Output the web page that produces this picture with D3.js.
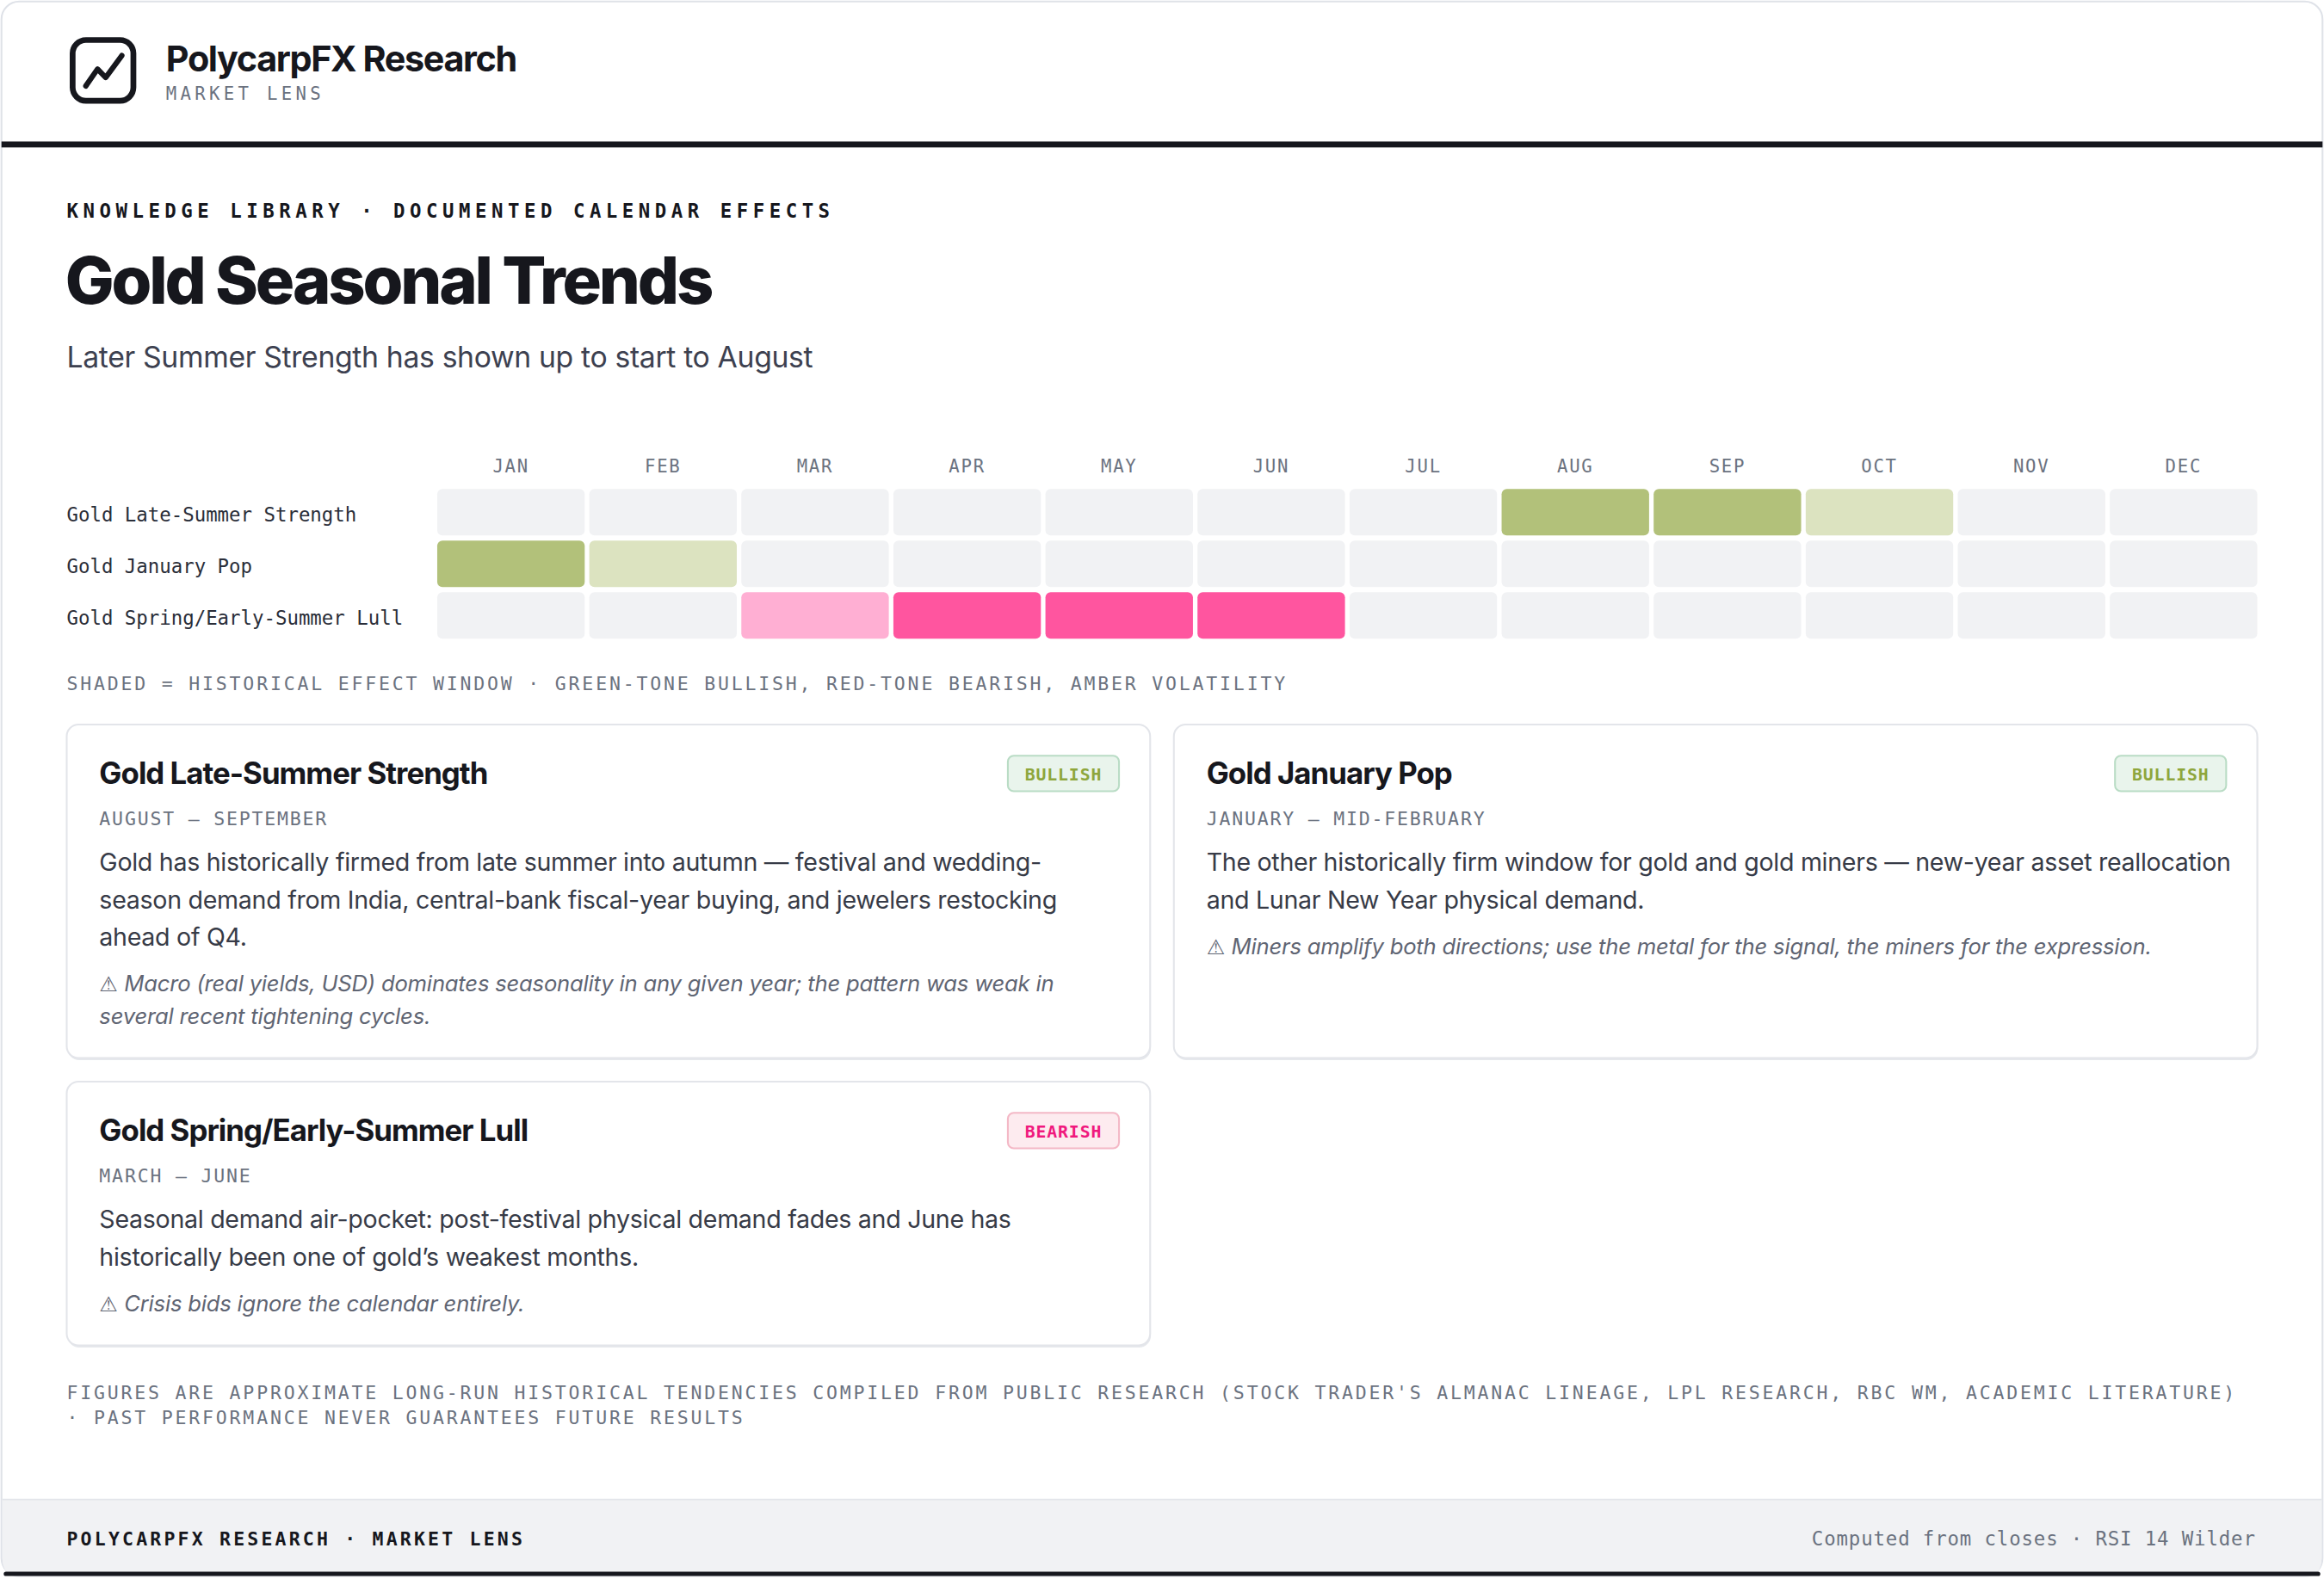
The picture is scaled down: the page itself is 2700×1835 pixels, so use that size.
<!DOCTYPE html>
<html>
<head>
<meta charset="utf-8">
<script src="https://cdn.jsdelivr.net/npm/d3@7"></script>
<style>
  html, body { margin: 0; padding: 0; background: #ffffff; }
  svg { display: block; }
</style>
</head>
<body>
<svg id="chart"></svg>
<script>
// ---- data ----
const months = ['JAN', 'FEB', 'MAR', 'APR', 'MAY', 'JUN', 'JUL', 'AUG', 'SEP', 'OCT', 'NOV', 'DEC'];
const effects = ['Gold Late-Summer Strength', 'Gold January Pop', 'Gold Spring/Early-Summer Lull'];
const tones = ['bullish', 'bullish', 'bearish'];
// 0 = outside window, 1 = edge of window, 2 = core of window
const lateSummer = [0, 0, 0, 0, 0, 0, 0, 2, 2, 1, 0, 0];
const januaryPop = [2, 1, 0, 0, 0, 0, 0, 0, 0, 0, 0, 0];
const springLull = [0, 0, 1, 2, 2, 2, 0, 0, 0, 0, 0, 0];
const intensity = [lateSummer, januaryPop, springLull];

const periods = ['AUGUST \u2013 SEPTEMBER', 'JANUARY \u2013 MID-FEBRUARY', 'MARCH \u2013 JUNE'];
const bodies = [
  ['Gold has historically firmed from late summer into autumn \u2014 festival and wedding-',
   'season demand from India, central-bank fiscal-year buying, and jewelers restocking',
   'ahead of Q4.'],
  ['The other historically firm window for gold and gold miners \u2014 new-year asset reallocation',
   'and Lunar New Year physical demand.'],
  ['Seasonal demand air-pocket: post-festival physical demand fades and June has',
   'historically been one of gold\u2019s weakest months.']
];
const caveats = [
  ['Macro (real yields, USD) dominates seasonality in any given year; the pattern was weak in',
   'several recent tightening cycles.'],
  ['Miners amplify both directions; use the metal for the signal, the miners for the expression.'],
  ['Crisis bids ignore the calendar entirely.']
];

const legendNote = 'SHADED = HISTORICAL EFFECT WINDOW \u00B7 GREEN-TONE BULLISH, RED-TONE BEARISH, AMBER VOLATILITY';
const footnote = [
  'FIGURES ARE APPROXIMATE LONG-RUN HISTORICAL TENDENCIES COMPILED FROM PUBLIC RESEARCH (STOCK TRADER\'S ALMANAC LINEAGE, LPL RESEARCH, RBC WM, ACADEMIC LITERATURE)',
  '\u00B7 PAST PERFORMANCE NEVER GUARANTEES FUTURE RESULTS'
];

// ---- styles ----
const W = 1568, H = 1835 * 1568 / 2700;
const SANS = 'Inter, "Noto Sans", sans-serif';
const MONO = '"DejaVu Sans Mono", "Liberation Mono", monospace';
const INK = '#16171d';
const GREY = '#6b7280';
const palette = {
  bullish: ['#f1f2f4', '#dce3c0', '#b2c17a'],
  bearish: ['#f1f2f4', '#ffafd3', '#ff559f']
};
const badge = {
  bullish: { fill: '#e9f4ec', stroke: '#b9dcc5', text: '#8ea63c', label: 'BULLISH' },
  bearish: { fill: '#fdebef', stroke: '#f4b8c6', text: '#f0197d', label: 'BEARISH' }
};

const svg = d3.select('#chart')
  .attr('width', 2700)
  .attr('height', 1835)
  .attr('viewBox', `0 0 ${W} ${H}`);

// ---- frame ----
svg.append('rect')
  .attr('x', 1).attr('y', 1).attr('width', W - 2).attr('height', H - 3)
  .attr('rx', 12).attr('fill', '#ffffff').attr('stroke', '#dfe2e8').attr('stroke-width', 1.2);

// footer band
const footY = 1012;
svg.append('path')
  .attr('d', `M1.6,${footY} H${W - 1.6} V${H - 14} Q${W - 1.6},${H - 2} ${W - 13},${H - 2} H13 Q1.6,${H - 2} 1.6,${H - 14} Z`)
  .attr('fill', '#f1f2f4');
svg.append('line')
  .attr('x1', 1.6).attr('x2', W - 1.6).attr('y1', footY).attr('y2', footY)
  .attr('stroke', '#e3e5ea').attr('stroke-width', 1);
svg.append('path')
  .attr('d', `M4,${H - 3.5} H${W - 4}`)
  .attr('stroke', INK).attr('stroke-width', 3).attr('stroke-linecap', 'round');

// header rule
svg.append('rect').attr('x', 1).attr('y', 95.5).attr('width', W - 2).attr('height', 4).attr('fill', INK);

// ---- header ----
const logo = svg.append('g');
logo.append('rect').attr('x', 49).attr('y', 27).attr('width', 41).attr('height', 41).attr('rx', 9)
  .attr('fill', 'none').attr('stroke', INK).attr('stroke-width', 3.9);
logo.append('polyline')
  .attr('points', d3.zip([57.9, 65.8, 71.3, 82.2], [58, 46.6, 52.3, 37.5]).map(p => p.join(',')).join(' '))
  .attr('fill', 'none').attr('stroke', INK).attr('stroke-width', 3.6)
  .attr('stroke-linecap', 'round').attr('stroke-linejoin', 'round');

svg.append('text').attr('x', 112).attr('y', 48)
  .attr('font-family', SANS).attr('font-weight', 700).attr('font-size', 24)
  .attr('letter-spacing', -0.8).attr('fill', INK).text('PolycarpFX Research');
svg.append('text').attr('x', 112).attr('y', 67.5)
  .attr('font-family', MONO).attr('font-size', 12).attr('letter-spacing', 2.5)
  .attr('fill', GREY).text('MARKET LENS');

svg.append('text').attr('x', 45).attr('y', 147)
  .attr('font-family', MONO).attr('font-weight', 700).attr('font-size', 13)
  .attr('letter-spacing', 3.2).attr('fill', INK).text('KNOWLEDGE LIBRARY \u00B7 DOCUMENTED CALENDAR EFFECTS');
svg.append('text').attr('x', 44).attr('y', 205)
  .attr('font-family', SANS).attr('font-weight', 800).attr('font-size', 44)
  .attr('letter-spacing', -1.85).attr('fill', INK).text('Gold Seasonal Trends');
svg.append('text').attr('x', 45).attr('y', 248)
  .attr('font-family', SANS).attr('font-weight', 400).attr('font-size', 19.6)
  .attr('letter-spacing', -0.2).attr('fill', '#3d4150').text('Later Summer Strength has shown up to start to August');

// ---- heatmap ----
const x = d3.scaleBand().domain(months).range([295, 1523]).paddingInner(0.03);
const y = d3.scaleBand().domain(effects).range([330, 431]).paddingInner(0.1);

svg.append('g').selectAll('text').data(months).join('text')
  .attr('x', d => x(d) + x.bandwidth() / 2).attr('y', 319)
  .attr('text-anchor', 'middle')
  .attr('font-family', MONO).attr('font-size', 12).attr('letter-spacing', 1)
  .attr('fill', GREY).text(d => d);

svg.append('g').selectAll('text').data(effects).join('text')
  .attr('x', 45).attr('y', d => y(d) + y.bandwidth() / 2 + 6)
  .attr('font-family', MONO).attr('font-size', 13)
  .attr('fill', '#2a2e39').text(d => d);

const cells = effects.flatMap((e, i) => months.map((m, j) => ({ e, m, tone: tones[i], v: intensity[i][j] })));
svg.append('g').selectAll('rect').data(cells).join('rect')
  .attr('x', d => x(d.m)).attr('y', d => y(d.e))
  .attr('width', x.bandwidth()).attr('height', y.bandwidth())
  .attr('rx', 3.5)
  .attr('fill', d => palette[d.tone][d.v]);

svg.append('text').attr('x', 45).attr('y', 466)
  .attr('font-family', MONO).attr('font-size', 12.5).attr('letter-spacing', 1.63)
  .attr('fill', GREY).text(legendNote);

// ---- cards ----
const cardW = 731, gapX = 16, gapY = 16, top0 = 489;
function cardHeight(i) {
  return 99 + (bodies[i].length - 1) * 25 + 31 + (caveats[i].length - 1) * 22 + 23;
}
const rowHeights = [];
effects.forEach((e, i) => {
  const r = Math.floor(i / 2);
  rowHeights[r] = Math.max(rowHeights[r] || 0, cardHeight(i));
});

effects.forEach((e, i) => {
  const col = i % 2, row = Math.floor(i / 2);
  const cx = 45 + col * (cardW + gapX);
  const cy = top0 + d3.sum(rowHeights.slice(0, row)) + row * gapY;
  const ch = rowHeights[row];
  const g = svg.append('g').attr('transform', `translate(${cx},${cy})`);

  g.append('rect').attr('x', 0.5).attr('y', 1.5).attr('width', cardW).attr('height', ch)
    .attr('rx', 8).attr('fill', '#e6e8ec');
  g.append('rect').attr('x', 0).attr('y', 0).attr('width', cardW).attr('height', ch)
    .attr('rx', 8).attr('fill', '#ffffff').attr('stroke', '#e3e5ea').attr('stroke-width', 1.2);

  g.append('text').attr('x', 22).attr('y', 40)
    .attr('font-family', SANS).attr('font-weight', 700).attr('font-size', 20.2)
    .attr('letter-spacing', -0.55).attr('fill', INK).text(e);

  const b = badge[tones[i]];
  g.append('rect').attr('x', cardW - 96).attr('y', 21).attr('width', 75).attr('height', 24)
    .attr('rx', 4).attr('fill', b.fill).attr('stroke', b.stroke).attr('stroke-width', 1.2);
  g.append('text').attr('x', cardW - 58.5).attr('y', 37.5).attr('text-anchor', 'middle')
    .attr('font-family', MONO).attr('font-weight', 700).attr('font-size', 11.5)
    .attr('letter-spacing', 0.5).attr('fill', b.text).text(b.label);

  g.append('text').attr('x', 22).attr('y', 68)
    .attr('font-family', MONO).attr('font-size', 12.5).attr('letter-spacing', 1.05)
    .attr('fill', GREY).text(periods[i]);

  g.append('g').selectAll('text').data(bodies[i]).join('text')
    .attr('x', 22).attr('y', (d, k) => 99 + k * 25)
    .attr('font-family', SANS).attr('font-size', 16.6).attr('letter-spacing', -0.17)
    .attr('fill', '#373b47').text(d => d);

  const cav0 = 99 + (bodies[i].length - 1) * 25 + 31;
  const cav = g.append('g').selectAll('text').data(caveats[i]).join('text')
    .attr('x', 22).attr('y', (d, k) => cav0 + k * 22)
    .attr('font-family', SANS).attr('font-style', 'italic').attr('font-size', 14.9)
    .attr('letter-spacing', -0.12)
    .attr('fill', '#5f6573');
  cav.filter((d, k) => k === 0).append('tspan')
    .attr('font-family', '"DejaVu Sans", sans-serif').attr('font-style', 'normal')
    .attr('font-size', 14).text('\u26A0\uFE0E ');
  cav.append('tspan').text(d => d);
});

// ---- footnote ----
svg.append('g').selectAll('text').data(footnote).join('text')
  .attr('x', 45).attr('y', (d, k) => 944 + k * 17)
  .attr('font-family', MONO).attr('font-size', 12.5).attr('letter-spacing', 1.63)
  .attr('fill', GREY).text(d => d);

// ---- footer ----
svg.append('text').attr('x', 45).attr('y', 1043)
  .attr('font-family', MONO).attr('font-weight', 700).attr('font-size', 12.5)
  .attr('letter-spacing', 1.85).attr('fill', INK).text('POLYCARPFX RESEARCH \u00B7 MARKET LENS');
svg.append('text').attr('x', 1522).attr('y', 1043).attr('text-anchor', 'end')
  .attr('font-family', MONO).attr('font-size', 13).attr('letter-spacing', 0.5)
  .attr('fill', GREY).text('Computed from closes \u00B7 RSI 14 Wilder');
</script>
</body>
</html>
